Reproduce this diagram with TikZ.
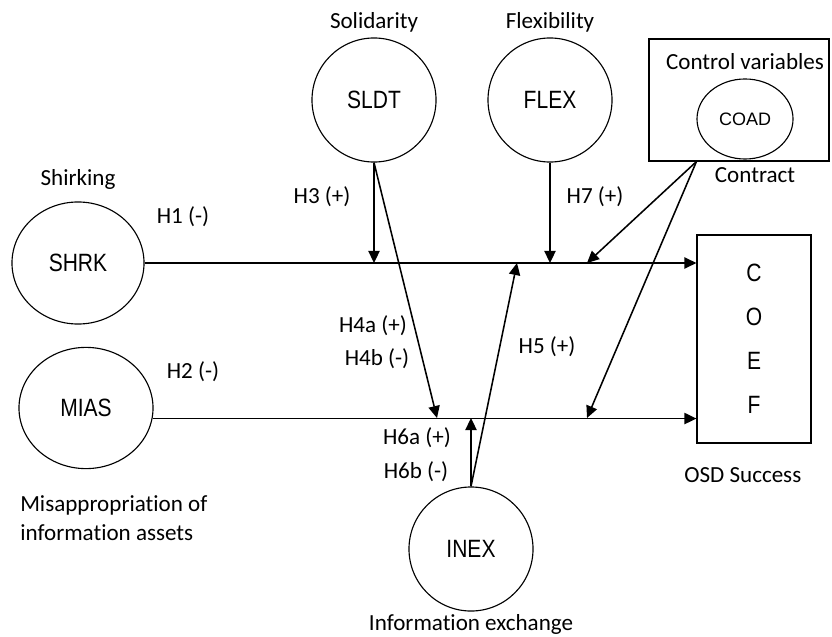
\documentclass[tikz,border=0pt]{standalone}
\usepackage{fontspec}
\setmainfont{Carlito}[Ligatures=NoCommon]
\newfontfamily\varfont[FakeStretch=0.84]{Liberation Sans}
\newfontfamily\coadfont{Liberation Sans}
\usetikzlibrary{arrows.meta, positioning, calc, shapes}

\begin{document}
\begin{tikzpicture}[
    x=0.025cm, y=-0.025cm,
    construct/.style={circle, draw, line width=0.8pt, minimum size=3.1cm, inner sep=0pt, font=\varfont\fontsize{17.8}{20}\selectfont},
    oval/.style={ellipse, draw, line width=0.8pt, inner sep=0pt, font=\varfont\fontsize{17.8}{20}\selectfont},
    lbl/.style={inner sep=0pt, font=\fontsize{16.4}{20.6}\selectfont},
    link/.style={line width=1.1pt, -{Triangle[length=0.3cm, width=0.28cm]}}
]
\useasboundingbox (0,0) rectangle (832,636);

% Independent variables
\node[oval, minimum width=3.3cm, minimum height=3.05cm] (shrk) at (78,263) {SHRK};
\node[oval, minimum width=3.35cm, minimum height=3.03cm] (mias) at (86,408) {MIAS};
\node[lbl, above=0.3cm of shrk] {Shirking};
\node[lbl, anchor=west, align=left] (miaslbl) at (20,518) {Misappropriation of\\information assets};

% Moderators
\node[construct] (sldt) at (374,100) {SLDT};
\node[construct] (flex) at (550,100) {FLEX};
\node[construct] (inex) at (471,549) {INEX};
\node[lbl, above=0.12cm of sldt] {Solidarity};
\node[lbl, above=0.12cm of flex] {Flexibility};
\node[lbl, below=0.07cm of inex] {Information exchange};

% Control variables
\node[draw, line width=0.8pt, minimum width=4.5cm, minimum height=3.05cm] (ctrl) at (739,100) {};
\node[lbl] at (745,62) {Control variables};
\node[ellipse, draw, line width=0.8pt, minimum width=2.4cm, minimum height=2cm, inner sep=0pt, font=\coadfont\fontsize{12.8}{15}\selectfont] (coad) at (745,119) {\raisebox{-0.2cm}{COAD}};
\node[lbl, below=0.2cm of coad, xshift=0.25cm] {Contract};

% Dependent variable
\node[draw, line width=0.8pt, minimum width=2.85cm, minimum height=5.2cm, align=center, font=\varfont\fontsize{17.8}{31.2}\selectfont] (coef) at (754,339) {C\\O\\E\\F};
\node[lbl, below=0.6cm of coef, xshift=-0.28cm] {OSD Success};

% Points on the main paths
\coordinate (h3tip) at (sldt.south |- shrk.east);
\coordinate (h7tip) at (flex.south |- shrk.east);
\coordinate (h5tip) at (517,263);
\coordinate (ctop) at (587,263);
\coordinate (h4tip) at (437,418);
\coordinate (h6tip) at (inex.north |- h4tip);
\coordinate (cbot) at (587,418);
\coordinate (cfrom) at ([xshift=1.2cm]ctrl.south west);

% Main effects
\draw[link] (shrk.east) -- (shrk.east -| coef.west);
\draw[link] (mias.-9) -- (mias.-9 -| coef.west);

% Moderating effects
\draw[link] (sldt.south) -- (h3tip);
\draw[link] (sldt.south) -- (h4tip);
\draw[link] (flex.south) -- (h7tip);
\draw[link] (inex.north) -- (h6tip);
\draw[link] (inex.north) -- (h5tip);
\draw[link] (cfrom) -- (ctop);
\draw[link] (cfrom) -- (cbot);

% Hypotheses
\node[lbl] at (183,217) {H1 (-)};
\node[lbl] at (193,372) {H2 (-)};
\node[lbl] at (322,197) {H3 (+)};
\node[lbl] at (373,326) {H4a (+)};
\node[lbl] at (377,359) {H4b (-)};
\node[lbl] at (547,347) {H5 (+)};
\node[lbl] at (417,438) {H6a (+)};
\node[lbl] at (416,472) {H6b (-)};
\node[lbl] at (595,197) {H7 (+)};

\end{tikzpicture}
\end{document}
